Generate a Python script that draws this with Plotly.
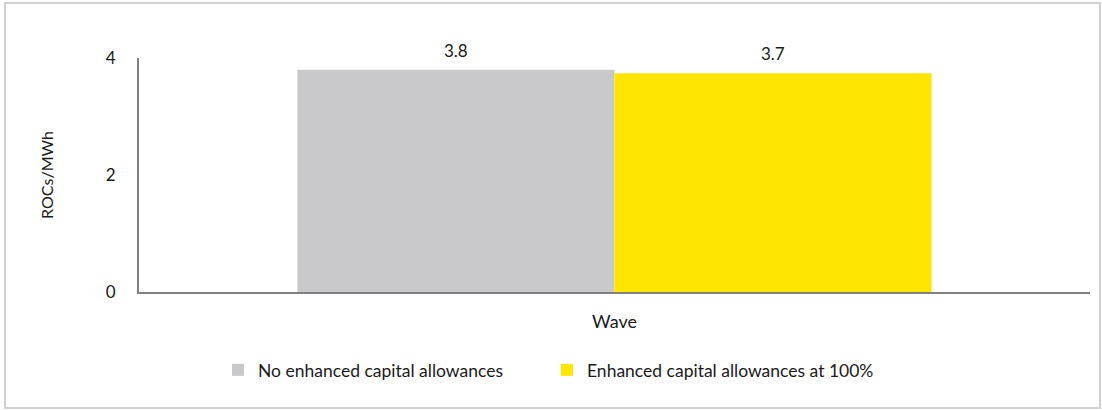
import plotly.graph_objects as go

# Data
categories = ["Wave"]
series_names = ["No enhanced capital allowances", "Enhanced capital allowances at 100%"]
series_values = [[3.8], [3.74]]
series_colors = ["#C9C9CB", "#FFE500"]
y_ticks = [0, 2, 4]

W, H = 1102, 410
ML, MR, MT, MB = 139, 12, 58, 118
PW, PH = W - ML - MR, H - MT - MB
BARGAP = 0.333

FONT = "Lato"
TXT = "#1a1a1a"

fig = go.Figure()
for name, vals, col in zip(series_names, series_values, series_colors):
    fig.add_trace(go.Bar(
        x=categories, y=vals, name=name,
        marker=dict(color=col, line=dict(width=0)),
    ))

def px_x(p):
    return (p - ML) / PW

def px_y(p):
    return (H - MB - p) / PH

# value labels above each grouped bar
bar_px = PW * (1 - BARGAP) / len(series_names)
annotations = []
for i, vals in enumerate(series_values):
    for cat, v in zip(categories, vals):
        annotations.append(dict(
            x=cat, y=v, xref="x", yref="y",
            text=f"{v:.1f}", showarrow=False,
            xshift=(i - (len(series_names) - 1) / 2) * bar_px,
            yanchor="bottom", yshift=7,
            font=dict(size=17, family=FONT, color=TXT),
        ))

fig.update_layout(
    width=W, height=H,
    margin=dict(l=ML, r=MR, t=MT, b=MB),
    paper_bgcolor="white", plot_bgcolor="white",
    font=dict(family=FONT, size=17, color=TXT),
    barmode="group", bargap=BARGAP, bargroupgap=0,
    showlegend=True,
    legend=dict(
        orientation="h", x=px_x(218), xanchor="left",
        y=px_y(370), yanchor="middle",
        font=dict(size=17.5, family=FONT, color=TXT),
        itemwidth=30, traceorder="normal",
        entrywidth=284,
    ),
    annotations=annotations,
    xaxis=dict(
        showline=True, linecolor="#808080", linewidth=2,
        showgrid=False, ticks="", showticklabels=False,
        title=dict(text="Wave", font=dict(size=18), standoff=22),
    ),
    yaxis=dict(
        range=[0, 4], tickvals=y_ticks,
        showline=True, linecolor="#808080", linewidth=2,
        showgrid=False, zeroline=False, ticks="",
        ticklabelstandoff=18,
        tickfont=dict(size=17),
        title=dict(text="ROCs/MWh", font=dict(size=16), standoff=48),
    ),
    shapes=[dict(
        type="rect", xref="paper", yref="paper",
        x0=px_x(5), x1=px_x(1100), y0=px_y(408), y1=px_y(3),
        line=dict(color="#D0D0D0", width=2), fillcolor="rgba(0,0,0,0)",
        layer="below",
    )],
)

fig.write_html("out.html")
